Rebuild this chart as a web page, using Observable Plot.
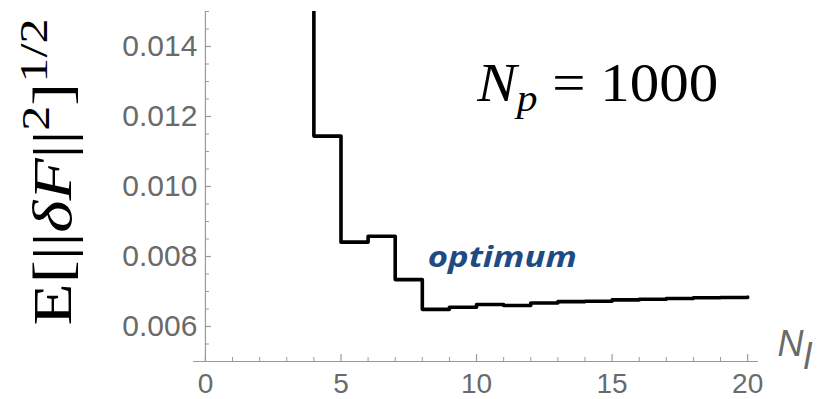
<!DOCTYPE html>
<html>
<head>
<meta charset="utf-8">
<script src="https://cdn.jsdelivr.net/npm/d3@7"></script>
<script src="https://cdn.jsdelivr.net/npm/@observablehq/plot@0.6"></script>
<style>
  html, body { margin: 0; padding: 0; background: #fff; }
</style>
</head>
<body>
<div id="chart"></div>
<script>
// Number of levels N_l (step plot, value holds from N_l to N_l + 1)
const Nl = [3, 4, 5, 6, 7, 8, 9, 10, 11, 12, 13, 14, 15, 16, 17, 18, 19, 20];
// E[||δF||^2]^(1/2) (N_l = 3 lies above the visible range; estimated)
const err = [0.0200, 0.01144, 0.00841, 0.00858, 0.00734, 0.00649, 0.00655, 0.00663, 0.00660,
             0.00667, 0.00671, 0.00672, 0.00676, 0.00678, 0.00680, 0.00682, 0.00683, 0.00684];

const xMajor = [0, 5, 10, 15, 20];
const xMinor = [1, 2, 3, 4, 6, 7, 8, 9, 11, 12, 13, 14, 16, 17, 18, 19];
const yMajor = [0.006, 0.008, 0.010, 0.012, 0.014];
const yMinor = [0.0055, 0.0065, 0.0070, 0.0075, 0.0085, 0.0090, 0.0095, 0.0105, 0.0110, 0.0115,
                0.0125, 0.0130, 0.0135, 0.0145, 0.0150];
const yBase = [0.005];
const xBase = [0];

const data = Nl.map((n, i) => ({n, e: err[i]}));

const axisGray = "#9a9a9a";
const labelGray = "#6a6a6a";
const sans = "'Liberation Sans', Arial, Helvetica, sans-serif";
const serif = "'Liberation Serif', 'Times New Roman', serif";

const svg = Plot.plot({
  width: 822,
  height: 399,
  marginLeft: 193,
  marginRight: 64,
  marginTop: 11,
  marginBottom: 38,
  x: {domain: [-0.44, 20.4], axis: null},
  y: {domain: [0.005, 0.015], axis: null},
  style: {background: "#fff", overflow: "visible"},
  marks: [
    // axis lines
    Plot.ruleY(yBase, {stroke: axisGray, strokeWidth: 1.2}),
    Plot.ruleX(xBase, {stroke: axisGray, strokeWidth: 1.2}),
    // x ticks (pointing up, inside)
    Plot.ruleX(xMajor, {x: d => d, y1: yBase[0], y2: yBase[0], insetBottom: 7, stroke: axisGray, strokeWidth: 1.2}),
    Plot.ruleX(xMinor, {x: d => d, y1: yBase[0], y2: yBase[0], insetBottom: 4, stroke: axisGray, strokeWidth: 1}),
    // y ticks (pointing right, inside)
    Plot.ruleY(yMajor, {y: d => d, x1: xBase[0], x2: xBase[0], insetRight: -6, stroke: axisGray, strokeWidth: 1.2}),
    Plot.ruleY(yMinor, {y: d => d, x1: xBase[0], x2: xBase[0], insetRight: -4, stroke: axisGray, strokeWidth: 1}),
    // tick labels
    Plot.text(yMajor, {x: xBase[0], y: d => d, text: d => d.toFixed(3), textAnchor: "end", dx: -8,
      fontSize: 30, fontFamily: sans, fill: labelGray}),
    Plot.text(xMajor, {x: d => d, y: yBase[0], text: d => String(d), lineAnchor: "top", dy: 12,
      fontSize: 28, fontFamily: sans, fill: labelGray}),
    // the step curve
    Plot.line(data, {x: "n", y: "e", curve: "step-after", stroke: "#000", strokeWidth: 3.6, clip: true}),
    // annotations
    Plot.text(["optimum"], {x: 8.2, y: 0.00797, text: d => d, textAnchor: "start",
      fill: "#1f4b85", fontSize: 28, fontWeight: "bold", fontStyle: "italic", fontFamily: "'Open Sans', sans-serif"}),
    Plot.text(["NP1000"], {x: 10.03, y: 0.01293, text: d => d, textAnchor: "start",
      fill: "#000", fontSize: 54, fontFamily: serif}),
    Plot.text(["NLLABEL"], {frameAnchor: "bottom-right", dx: 19, dy: -6, textAnchor: "start", text: d => d,
      fill: labelGray, fontSize: 36, fontStyle: "italic", fontFamily: sans}),
    Plot.text(["YLABEL"], {frameAnchor: "left", dx: -140, dy: 139, rotate: -90, textAnchor: "start", text: d => d,
      fill: "#000", fontSize: 55, fontFamily: serif})
  ]
});

document.getElementById("chart").appendChild(svg);

// rich text (sub/superscripts, italics) inside the text marks
function rich(key, parts, length) {
  const t = [...svg.querySelectorAll("text")].find(e => e.textContent === key);
  if (!t) return;
  t.textContent = "";
  let shift = 0;
  for (const p of parts) {
    const ts = document.createElementNS("http://www.w3.org/2000/svg", "tspan");
    ts.textContent = p.t;
    const want = p.sup ? -p.sup : (p.sub ? p.sub : 0);
    const dy = want - shift;
    if (dy) ts.setAttribute("dy", dy);
    shift = want;
    if (p.size) ts.setAttribute("font-size", p.size);
    if (p.italic) ts.setAttribute("font-style", "italic");
    t.appendChild(ts);
  }
  if (length) {
    t.setAttribute("textLength", length);
    t.setAttribute("lengthAdjust", "spacingAndGlyphs");
  }
}

rich("NP1000", [
  {t: "N", italic: true},
  {t: "p", italic: true, size: 38, sub: 10},
  {t: " = 1000"}
], 241);

rich("NLLABEL", [
  {t: "N"},
  {t: "l", size: 36, sub: 13}
]);

rich("YLABEL", [
  {t: "E[||"},
  {t: "δF", italic: true},
  {t: "||"},
  {t: "2", size: 40, sup: 22},
  {t: "]"},
  {t: "1/2", size: 40, sup: 24}
], 307);

const opt = [...svg.querySelectorAll("text")].find(e => e.textContent === "optimum");
if (opt) { opt.setAttribute("textLength", 149); opt.setAttribute("lengthAdjust", "spacingAndGlyphs"); }
</script>
</body>
</html>
